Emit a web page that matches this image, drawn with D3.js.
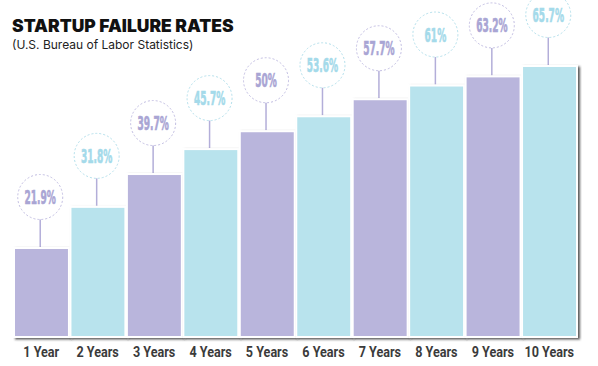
<!DOCTYPE html>
<html>
<head>
<meta charset="utf-8">
<script src="https://cdn.jsdelivr.net/npm/d3@7"></script>
<style>
  body { margin: 0; background: #fff; }
  svg { display: block; }
</style>
</head>
<body>
<div id="chart"></div>
<script>
var categories = ['1 Year', '2 Years', '3 Years', '4 Years', '5 Years',
  '6 Years', '7 Years', '8 Years', '9 Years', '10 Years'];
var failureRates = [21.9, 31.8, 39.7, 45.7, 50, 53.6, 57.7, 61, 63.2, 65.7];
var valueLabels = ['21.9%', '31.8%', '39.7%', '45.7%', '50%',
  '53.6%', '57.7%', '61%', '63.2%', '65.7%'];

var width = 598;
var height = 366;
var purple = '#b9b5dc';
var cyan = '#b8e3ed';
var purpleText = '#a9a5d4';
var cyanText = '#a4daea';

var data = categories.map(function(c, i) {
  return { cat: c, value: failureRates[i], label: valueLabels[i], odd: i % 2 == 1 };
});

var svg = d3.select('#chart').append('svg')
  .attr('width', width)
  .attr('height', height);

var defs = svg.append('defs');
var shadow = defs.append('filter').attr('id', 'shadow')
  .attr('x', '-10%').attr('y', '-10%').attr('width', '130%').attr('height', '130%');
shadow.append('feDropShadow')
  .attr('dx', 2).attr('dy', 1.5)
  .attr('stdDeviation', 1.2)
  .attr('flood-color', '#222')
  .attr('flood-opacity', 0.75);

var x = d3.scaleBand()
  .domain(categories)
  .range([13, 577.5])
  .padding(0);

var y = d3.scaleLinear()
  .domain([0, 65.7])
  .range([338, 65]);

// title
svg.append('text')
  .attr('x', 12).attr('y', 32)
  .attr('font-family', 'Inter, "DejaVu Sans", sans-serif')
  .attr('font-weight', 900)
  .attr('font-size', 17.5)
  .attr('fill', '#111')
  .text('STARTUP FAILURE RATES');

svg.append('text')
  .attr('x', 12).attr('y', 49)
  .attr('font-family', 'Inter, "Open Sans", sans-serif')
  .attr('font-size', 12)
  .attr('fill', '#222')
  .text('(U.S. Bureau of Labor Statistics)');

var bw = x.bandwidth();

// connectors + circles
var labels = svg.append('g').classed('labels', true)
  .selectAll('g.lab')
  .data(data)
  .enter().append('g')
  .classed('lab', true)
  .attr('transform', function(d) {
    return 'translate(' + (x(d.cat) + bw / 2 - 1) + ',' + (y(d.value) - 50) + ')';
  });

labels.append('line')
  .attr('x1', 0).attr('x2', 0)
  .attr('y1', 22.5)
  .attr('y2', 50)
  .attr('stroke', '#b3aed9')
  .attr('stroke-width', 1.5);

labels.append('circle')
  .attr('r', 22.5)
  .attr('fill', 'none')
  .attr('stroke', function(d) { return d.odd ? '#b4e0ec' : '#c2bee2'; })
  .attr('stroke-width', 1)
  .attr('stroke-dasharray', '2,2');

labels.append('text')
  .attr('text-anchor', 'middle')
  .attr('transform', 'translate(0,7) scale(0.53,1)')
  .attr('font-family', '"DejaVu Sans Condensed", "DejaVu Sans", sans-serif')
  .attr('font-weight', 'bold')
  .attr('font-size', 19)
  .attr('fill', function(d) { return d.odd ? cyanText : purpleText; })
  .attr('stroke', function(d) { return d.odd ? cyanText : purpleText; })
  .attr('stroke-width', 0.6)
  .text(function(d) { return d.label; });

// bars
svg.append('g').classed('bars', true)
  .selectAll('rect')
  .data(data)
  .enter().append('rect')
  .attr('x', function(d) { return x(d.cat) + 1; })
  .attr('y', function(d) { return y(d.value) + 1; })
  .attr('width', bw - 1.5)
  .attr('height', function(d) { return y(0) - y(d.value) - 2; })
  .attr('fill', function(d) { return d.odd ? cyan : purple; })
  .attr('stroke', '#fff')
  .attr('stroke-width', 2)
  .attr('filter', 'url(#shadow)');

// x axis labels
var xAxis = d3.axisBottom(x).tickSize(0).tickPadding(0);
var gx = svg.append('g')
  .attr('transform', 'translate(' + 0 + ',' + 346 + ')')
  .call(xAxis);
gx.select('.domain').remove();
gx.selectAll('text')
  .attr('dy', 0)
  .attr('y', 11)
  .attr('transform', 'scale(0.9,1)')
  .attr('font-family', 'Roboto, "DejaVu Sans Condensed", sans-serif')
  .attr('font-weight', 'bold')
  .attr('font-size', 14)
  .attr('fill', '#3b3b3b');
</script>
</body>
</html>
